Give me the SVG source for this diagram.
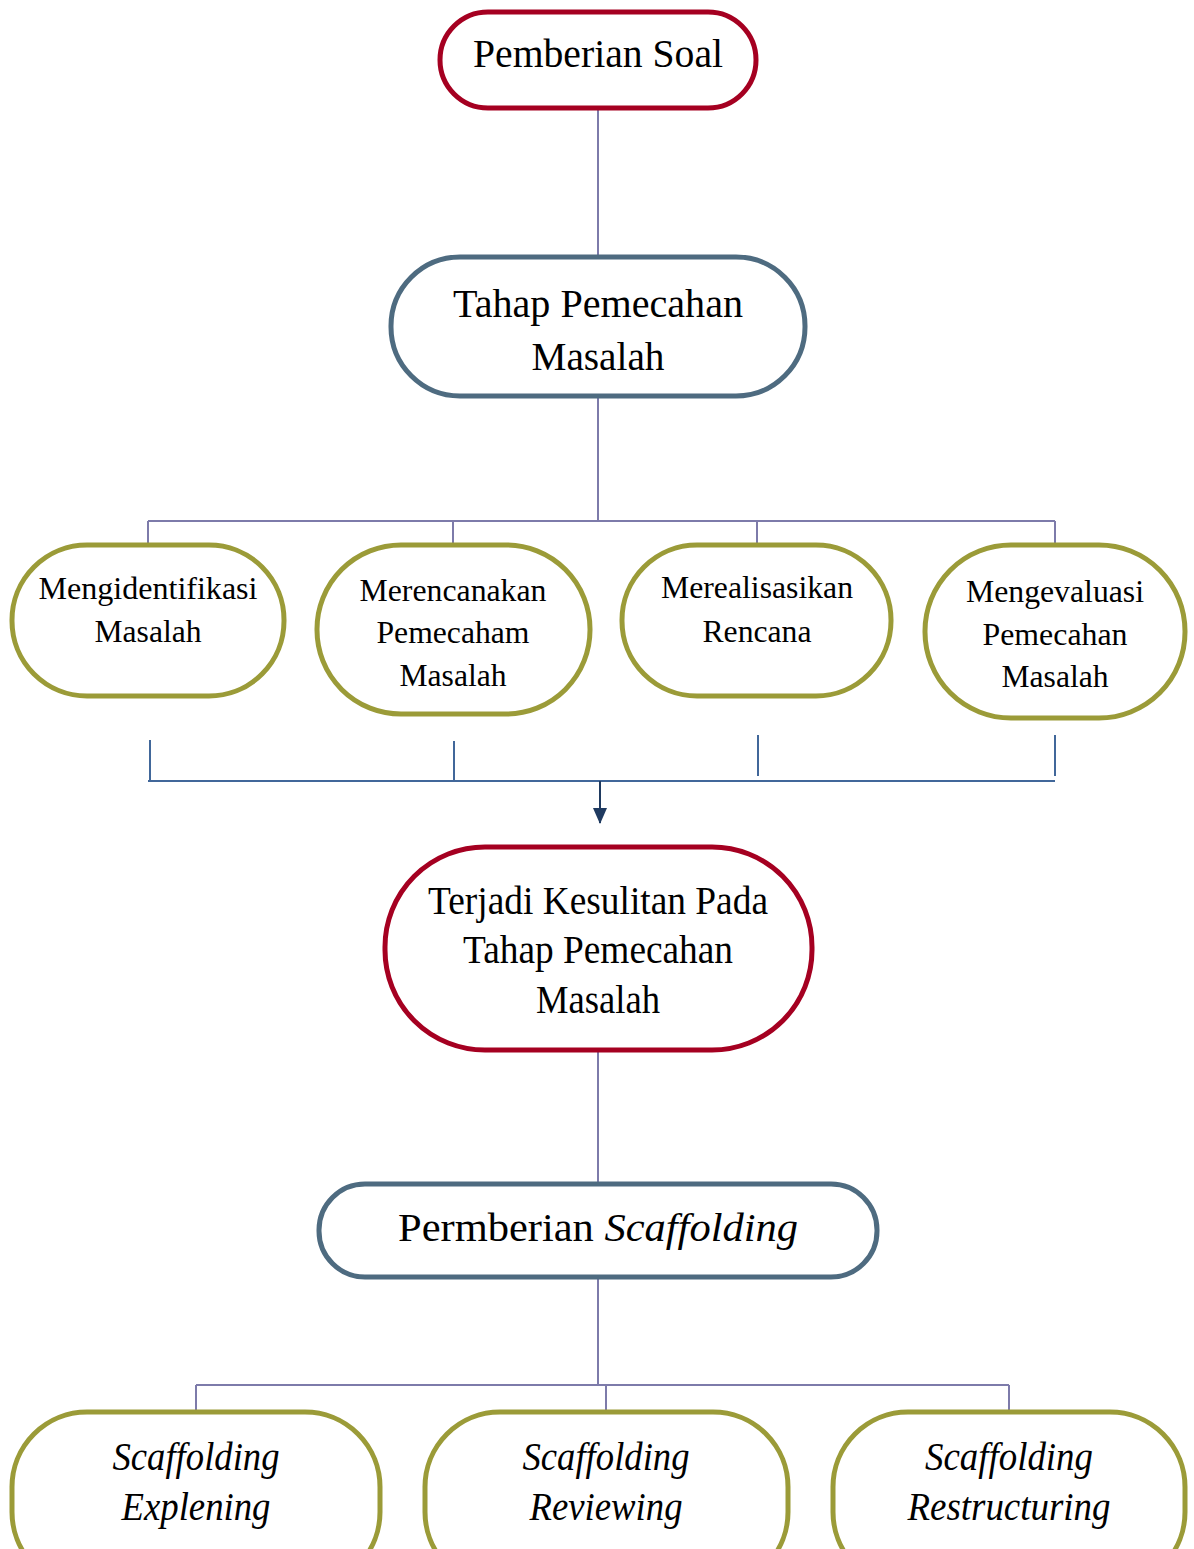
<svg xmlns="http://www.w3.org/2000/svg" width="1194" height="1549" viewBox="0 0 1194 1549">
<style>
text{font-family:"Liberation Serif","Times New Roman",serif;fill:#000;text-anchor:middle}
.red{fill:#fff;stroke:#A50021;stroke-width:5}
.blue{fill:#fff;stroke:#4E6B80;stroke-width:5}
.olive{fill:#fff;stroke:#9B9B38;stroke-width:5}
.c1{fill:none;stroke:#7D7BAA;stroke-width:2}
.c2{fill:none;stroke:#41679A;stroke-width:2}
.big{font-size:40px}
.mid{font-size:32px}
.it{font-style:italic}
</style>
<defs>
<marker id="ah" viewBox="0 0 10 10" refX="10" refY="5" markerWidth="7" markerHeight="7" markerUnits="userSpaceOnUse" orient="auto">
<path d="M0,0 L10,5 L0,10 z" fill="#1F3A60"/>
</marker>
</defs>
<rect width="1194" height="1549" fill="#fff"/>
<g id="connectors">
<path class="c1" d="M598,108 V256"/>
<path class="c1" d="M598,396 V521 M148,521 H1055 M148,521 V544 M453,521 V544 M757,521 V544 M1055,521 V544"/>
<path class="c2" d="M150,740 V781 M454,741 V781 M758,735 V776 M1055,735 V776 M148,781 H1055"/>
<path d="M600,781 V823" stroke="#1F3A60" stroke-width="2" fill="none"/>
<path d="M593,808 L607,808 L600,824 z" fill="#1F3A60"/>
<path class="c1" d="M598,1050 V1183"/>
<path class="c1" d="M598,1277 V1385 M196,1385 H1009 M196,1385 V1410 M606,1385 V1410 M1009,1385 V1410"/>
</g>
<g id="n-pemberian-soal">
<rect class="red" x="440" y="12" width="316" height="96" rx="48"/>
<text class="big" x="598" y="67" textLength="250" lengthAdjust="spacingAndGlyphs">Pemberian Soal</text>
</g>
<g id="n-tahap">
<rect class="blue" x="391" y="257" width="414" height="139" rx="69"/>
<text class="big" x="598" y="317" textLength="290" lengthAdjust="spacingAndGlyphs">Tahap Pemecahan</text>
<text class="big" x="598" y="370" textLength="133" lengthAdjust="spacingAndGlyphs">Masalah</text>
</g>
<g id="n-identifikasi">
<rect class="olive" x="12" y="545" width="272" height="151" rx="75"/>
<text class="mid" x="148" y="599" textLength="219" lengthAdjust="spacingAndGlyphs">Mengidentifikasi</text>
<text class="mid" x="148" y="642" textLength="107" lengthAdjust="spacingAndGlyphs">Masalah</text>
</g>
<g id="n-merencanakan">
<rect class="olive" x="317" y="545" width="273" height="169" rx="84"/>
<text class="mid" x="453" y="601" textLength="187" lengthAdjust="spacingAndGlyphs">Merencanakan</text>
<text class="mid" x="453" y="643" textLength="153" lengthAdjust="spacingAndGlyphs">Pemecaham</text>
<text class="mid" x="453" y="686" textLength="107" lengthAdjust="spacingAndGlyphs">Masalah</text>
</g>
<g id="n-merealisasikan">
<rect class="olive" x="622" y="545" width="269" height="151" rx="75"/>
<text class="mid" x="757" y="598" textLength="192" lengthAdjust="spacingAndGlyphs">Merealisasikan</text>
<text class="mid" x="757" y="642" textLength="109" lengthAdjust="spacingAndGlyphs">Rencana</text>
</g>
<g id="n-mengevaluasi">
<rect class="olive" x="925" y="545" width="260" height="173" rx="86"/>
<text class="mid" x="1055" y="602" textLength="178" lengthAdjust="spacingAndGlyphs">Mengevaluasi</text>
<text class="mid" x="1055" y="645" textLength="145" lengthAdjust="spacingAndGlyphs">Pemecahan</text>
<text class="mid" x="1055" y="687" textLength="107" lengthAdjust="spacingAndGlyphs">Masalah</text>
</g>
<g id="n-terjadi">
<rect class="red" x="385" y="847" width="427" height="203" rx="100"/>
<text class="big" x="598" y="914" textLength="340" lengthAdjust="spacingAndGlyphs">Terjadi Kesulitan Pada</text>
<text class="big" x="598" y="963" textLength="270" lengthAdjust="spacingAndGlyphs">Tahap Pemecahan</text>
<text class="big" x="598" y="1013" textLength="124" lengthAdjust="spacingAndGlyphs">Masalah</text>
</g>
<g id="n-pemberian-scaffolding">
<rect class="blue" x="319" y="1184" width="558" height="93" rx="46"/>
<text class="big" x="598" y="1241" textLength="400" lengthAdjust="spacingAndGlyphs">Permberian <tspan class="it">Scaffolding</tspan></text>
</g>
<g id="n-explening">
<rect class="olive" x="12" y="1412" width="368" height="175" rx="75"/>
<text class="big it" x="196" y="1470" textLength="167" lengthAdjust="spacingAndGlyphs">Scaffolding</text>
<text class="big it" x="196" y="1520" textLength="149" lengthAdjust="spacingAndGlyphs">Explening</text>
</g>
<g id="n-reviewing">
<rect class="olive" x="425" y="1412" width="363" height="175" rx="75"/>
<text class="big it" x="606" y="1470" textLength="167" lengthAdjust="spacingAndGlyphs">Scaffolding</text>
<text class="big it" x="606" y="1520" textLength="153" lengthAdjust="spacingAndGlyphs">Reviewing</text>
</g>
<g id="n-restructuring">
<rect class="olive" x="833" y="1412" width="352" height="175" rx="75"/>
<text class="big it" x="1009" y="1470" textLength="168" lengthAdjust="spacingAndGlyphs">Scaffolding</text>
<text class="big it" x="1009" y="1520" textLength="203" lengthAdjust="spacingAndGlyphs">Restructuring</text>
</g>
</svg>
